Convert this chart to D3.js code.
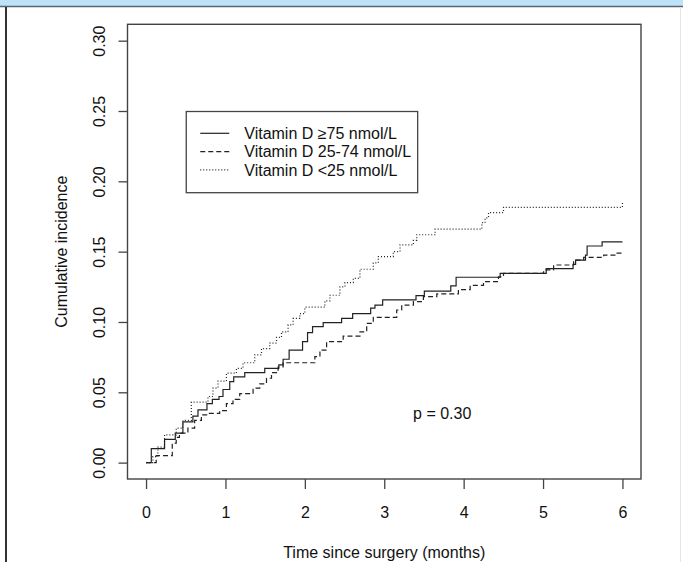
<!DOCTYPE html>
<html>
<head>
<meta charset="utf-8">
<script src="https://cdn.jsdelivr.net/npm/d3@7"></script>
<style>
  body { margin: 0; background: #fff; }
  text { font-family: "Liberation Sans", Arial, sans-serif; fill: #111; }
</style>
</head>
<body>
<div id="chart"></div>
<script>
// step points (time in months, cumulative incidence)
var highTimes = [0, 0.066, 0.233, 0.368, 0.464, 0.59, 0.654, 0.767, 0.835, 0.919, 0.969, 1.054, 1.104, 1.243, 1.495, 1.672, 1.726, 1.802, 1.971, 2.034, 2.097, 2.231, 2.463, 2.602, 2.829, 2.883, 2.98, 3.40, 3.505, 3.838, 3.905, 4.46, 5.04, 5.378, 5.41, 5.535, 5.555, 5.744, 6];
var highCI    = [0, 0.010, 0.0166, 0.021, 0.029, 0.033, 0.0375, 0.042, 0.045, 0.047, 0.052, 0.0576, 0.061, 0.064, 0.067, 0.0695, 0.0735, 0.080, 0.086, 0.0924, 0.0967, 0.0995, 0.1026, 0.106, 0.1098, 0.112, 0.1157, 0.1187, 0.122, 0.1256, 0.1318, 0.1346, 0.138, 0.141, 0.144, 0.1476, 0.154, 0.157, 0.157];

var midTimes = [0, 0.128, 0.33, 0.38, 0.42, 0.527, 0.612, 0.697, 0.78, 0.927, 1.012, 1.095, 1.18, 1.348, 1.432, 1.517, 1.58, 1.663, 1.726, 2.126, 2.19, 2.274, 2.483, 2.694, 2.779, 2.862, 3.157, 3.22, 3.367, 3.493, 3.662, 3.934, 4.082, 4.25, 4.439, 4.502, 5.007, 5.133, 5.385, 5.512, 5.764, 5.933, 6];
var midCI    = [0, 0.005, 0.0138, 0.018, 0.021, 0.0245, 0.030, 0.034, 0.035, 0.037, 0.042, 0.045, 0.049, 0.053, 0.056, 0.060, 0.064, 0.068, 0.071, 0.0754, 0.080, 0.086, 0.090, 0.093, 0.099, 0.1033, 0.1085, 0.112, 0.1145, 0.118, 0.120, 0.123, 0.126, 0.1287, 0.132, 0.1346, 0.137, 0.1405, 0.144, 0.146, 0.1476, 0.149, 0.149];

var lowTimes = [0, 0.086, 0.149, 0.233, 0.38, 0.464, 0.57, 0.78, 0.843, 0.906, 1.012, 1.138, 1.221, 1.369, 1.454, 1.558, 1.643, 1.706, 1.789, 1.852, 1.937, 2.0, 2.252, 2.315, 2.442, 2.505, 2.61, 2.694, 2.862, 2.925, 3.114, 3.199, 3.367, 3.41, 3.64, 4.23, 4.27, 4.313, 4.502, 6];
var lowCI    = [0, 0.0043, 0.011, 0.0197, 0.0245, 0.030, 0.043, 0.047, 0.053, 0.058, 0.0636, 0.067, 0.071, 0.0766, 0.081, 0.085, 0.089, 0.093, 0.098, 0.1025, 0.106, 0.1105, 0.115, 0.119, 0.125, 0.128, 0.131, 0.1375, 0.142, 0.1465, 0.150, 0.1548, 0.158, 0.162, 0.166, 0.1706, 0.174, 0.1777, 0.1815, 0.1855];

var groupLabels = ["Vitamin D \u226575 nmol/L", "Vitamin D 25-74 nmol/L", "Vitamin D <25 nmol/L"];
var groupDash = [null, "5,3", "1,2"];
var xTicks = [0, 1, 2, 3, 4, 5, 6];
var yTicks = [0, 0.05, 0.10, 0.15, 0.20, 0.25, 0.30];
var pLabel = "p = 0.30";

var width = 683, height = 562;
var margin = {top: 23.8, right: 41.5, bottom: 82.5, left: 127};

var svg = d3.select("#chart").append("svg")
    .attr("width", width)
    .attr("height", height);

// window frame from the screenshot
svg.append("rect").attr("x", 0).attr("y", 0).attr("width", width).attr("height", 6)
    .style("fill", "#bce3f7");
svg.append("line").attr("x1", 0).attr("x2", width).attr("y1", 6.5).attr("y2", 6.5)
    .style("stroke", "#5a6670").style("stroke-width", 1.5);
svg.append("line").attr("x1", 6).attr("x2", 6).attr("y1", 7).attr("y2", height)
    .style("stroke", "#333").style("stroke-width", 2);
svg.append("line").attr("x1", 680.5).attr("x2", 680.5).attr("y1", 7).attr("y2", height)
    .style("stroke", "#e4e4e4").style("stroke-width", 1);

// R style 4% padding on both axes
var x = d3.scaleLinear().domain([-0.24, 6.24]).range([margin.left, width - margin.right]);
var y = d3.scaleLinear().domain([-0.012, 0.312]).range([height - margin.bottom, margin.top]);

var plotBottom = height - margin.bottom;

svg.append("rect")
    .attr("x", margin.left + 0.5).attr("y", margin.top + 0.5)
    .attr("width", width - margin.right - margin.left - 1)
    .attr("height", plotBottom - margin.top - 1)
    .style("fill", "none").style("stroke", "#444").style("stroke-width", 1.4);

// x axis
var xAxis = svg.append("g")
    .attr("transform", "translate(0," + (plotBottom - 0.5) + ")")
    .call(d3.axisBottom(x).tickValues(xTicks).tickSize(10).tickPadding(17.5).tickFormat(d3.format("d")));
xAxis.select(".domain").remove();
xAxis.selectAll("line").style("stroke", "#444").style("stroke-width", 1.3);
xAxis.selectAll("text").style("font-size", "16px").style("font-family", "Liberation Sans, Arial, sans-serif").style("fill", "#111");

// y axis, labels turned like base R
var yAxis = svg.append("g")
    .attr("transform", "translate(" + (margin.left + 0.5) + ",0)")
    .call(d3.axisLeft(y).tickValues(yTicks).tickSize(9).tickFormat(d3.format(".2f")));
yAxis.select(".domain").remove();
yAxis.selectAll("line").style("stroke", "#444").style("stroke-width", 1.3);
yAxis.selectAll("text")
    .attr("x", null).attr("dy", "0.35em")
    .attr("transform", "translate(-28,0) rotate(-90)")
    .style("text-anchor", "middle")
    .style("font-size", "16px").style("font-family", "Liberation Sans, Arial, sans-serif").style("fill", "#111");

// axis titles
svg.append("text")
    .text("Time since surgery (months)")
    .attr("x", x(3)).attr("y", 558)
    .style("text-anchor", "middle").style("font-size", "16px");

svg.append("text")
    .text("Cumulative incidence")
    .attr("transform", "translate(61," + y(0.15) + ") rotate(-90)")
    .attr("dy", "0.35em")
    .style("text-anchor", "middle").style("font-size", "16px");

// curves
var series = [
    {times: highTimes, ci: highCI},
    {times: midTimes, ci: midCI},
    {times: lowTimes, ci: lowCI}
];

var stepLine = d3.line()
    .x(function(d){ return x(d[0]); })
    .y(function(d){ return y(d[1]); })
    .curve(d3.curveStepAfter);

series.forEach(function(s, i){
    var pts = s.times.map(function(t, j){ return [t, s.ci[j]]; });
    svg.append("path")
        .attr("d", stepLine(pts))
        .style("fill", "none")
        .style("stroke", "#222")
        .style("stroke-width", 1.2)
        .style("stroke-dasharray", groupDash[i]);
});

// p value
svg.append("text")
    .text(pLabel)
    .attr("x", x(3.73)).attr("y", y(0.035))
    .attr("dy", "0.35em")
    .style("text-anchor", "middle").style("font-size", "16px");

// legend, top left corner at (0.5, 0.25) like legend(0.5, 0.25, ...)
var lx = x(0.5), ly = y(0.25);
var rowGap = 18.3;
var legend = svg.append("g");
var legendBox = legend.append("rect");
var maxW = 0;
groupLabels.forEach(function(lab, i){
    var ry = ly + 22.3 + i * rowGap;
    legend.append("line")
        .attr("x1", lx + 14.5).attr("x2", lx + 43.5)
        .attr("y1", ry).attr("y2", ry)
        .style("stroke", "#222").style("stroke-width", 1.2)
        .style("stroke-dasharray", groupDash[i]);
    var t = legend.append("text")
        .text(lab)
        .attr("x", lx + 58.5).attr("y", ry)
        .attr("dy", "0.35em")
        .style("font-size", "16px");
    maxW = Math.max(maxW, t.node().getComputedTextLength());
});
legendBox
    .attr("x", lx + 0.5).attr("y", ly + 0.5)
    .attr("width", 58.5 + maxW + 6)
    .attr("height", 22.3 * 2 + rowGap * 2)
    .style("fill", "#fff").style("stroke", "#444").style("stroke-width", 1.3);
</script>
</body>
</html>
